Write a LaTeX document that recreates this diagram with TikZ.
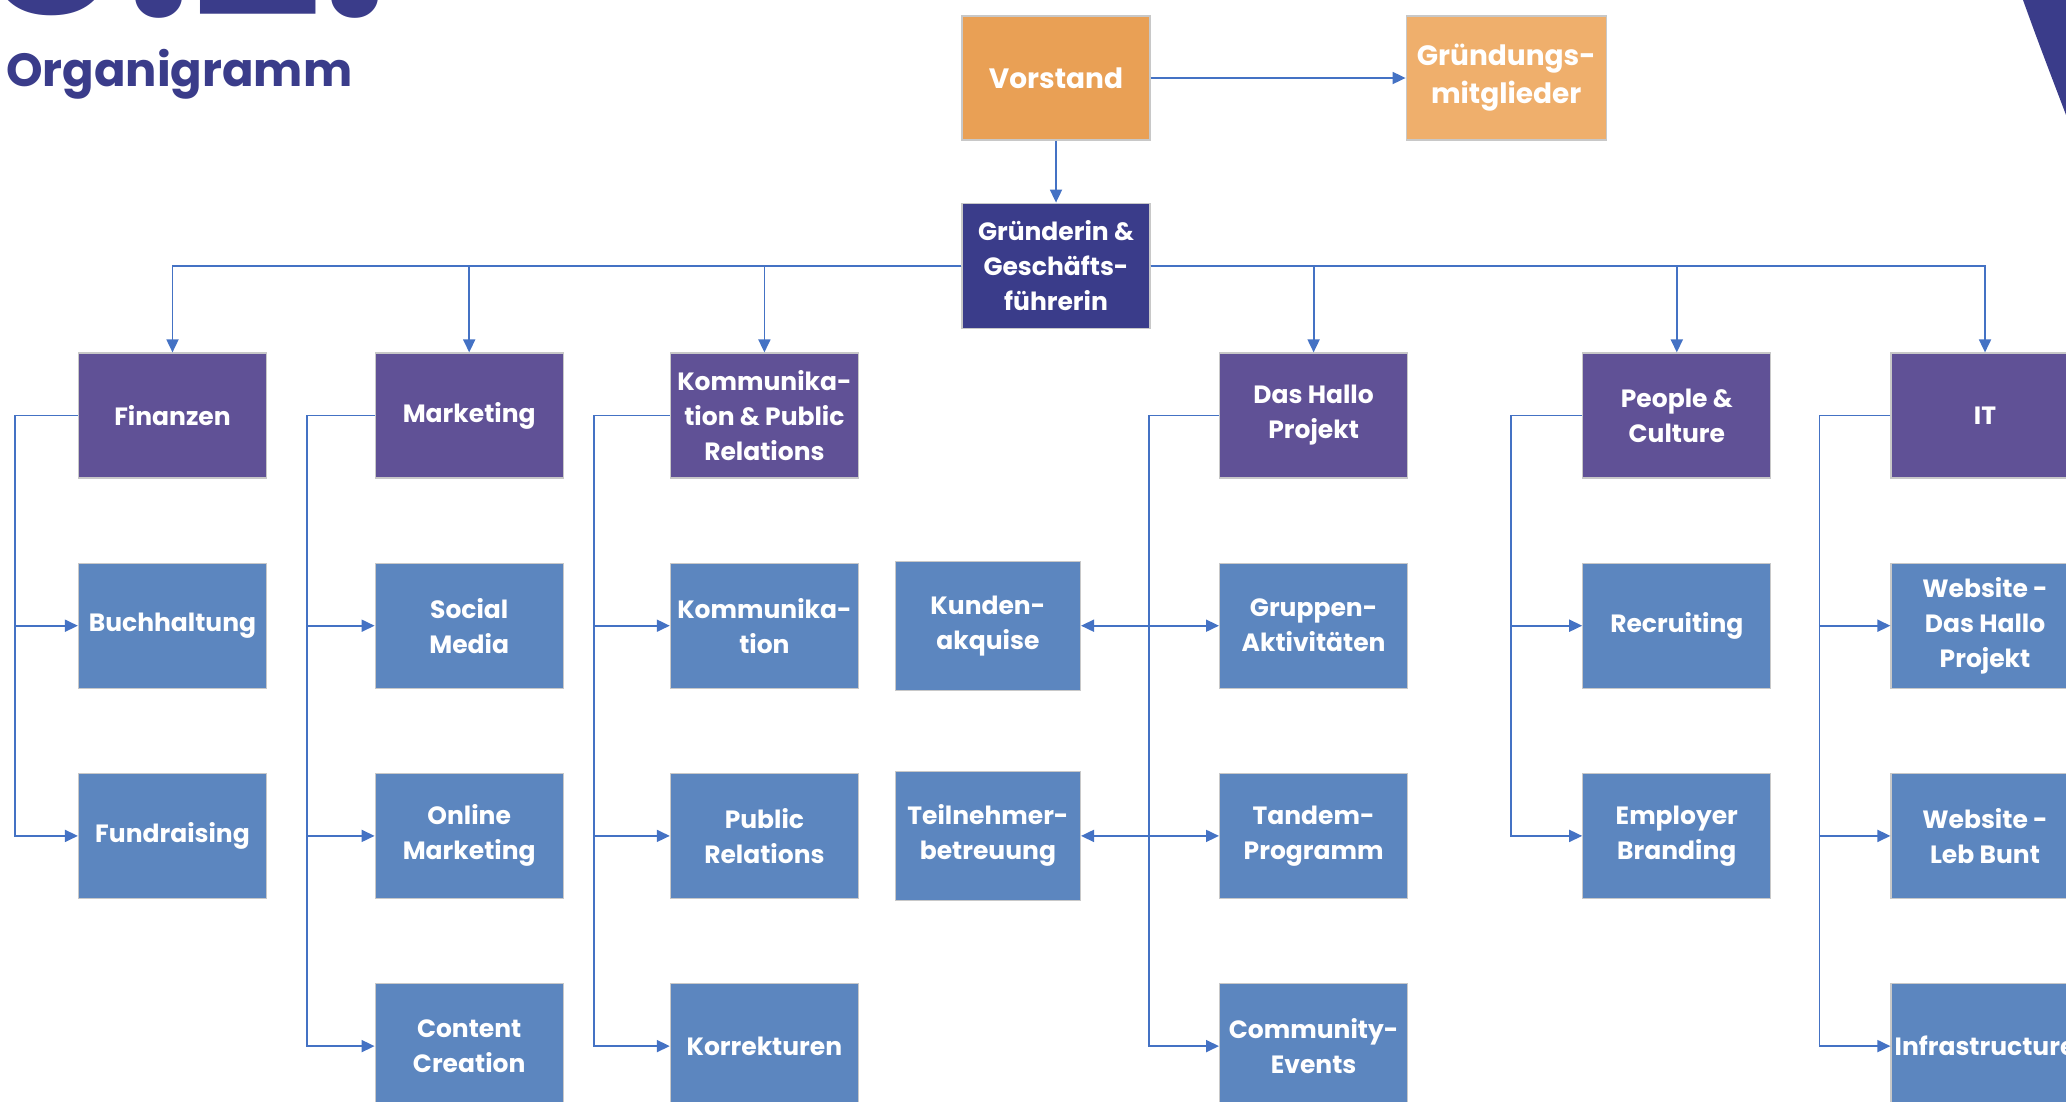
\documentclass[tikz,border=0pt]{standalone}
\usepackage{fontspec}
\setmainfont{Poppins}
\usepackage{xcolor}
\definecolor{ogNavy}{RGB}{58,60,138}
\definecolor{ogPurple}{RGB}{96,81,150}
\definecolor{ogBlue}{RGB}{92,134,191}
\definecolor{ogOrange}{RGB}{233,160,85}
\definecolor{ogOrangeL}{RGB}{239,175,108}
\definecolor{ogLine}{RGB}{68,114,196}
\definecolor{ogBorder}{RGB}{200,200,200}
\usetikzlibrary{positioning,arrows.meta}
\newcommand{\ogfont}{\fontsize{25}{35}\selectfont\bfseries}
\newcommand{\ogbigfont}{\fontsize{28}{38}\selectfont\bfseries}
\tikzset{
  og-box/.style={draw=ogBorder,line width=1.2pt,text=white,align=center,font=\ogfont,
    minimum width=188pt,minimum height=125pt,inner sep=2pt},
  og-board/.style={og-box,fill=ogOrange,minimum height=124pt,font=\ogbigfont},
  og-lead/.style={og-box,fill=ogNavy},
  og-dept/.style={og-box,fill=ogPurple},
  og-team/.style={og-box,fill=ogBlue},
  og-title/.style={text=ogNavy,inner sep=0pt},
  og-arrow/.style={-{Triangle[length=13pt,width=12pt]},ogLine,line width=1.8pt},
  og-arrowd/.style={{Triangle[length=13pt,width=12pt]}-{Triangle[length=13pt,width=12pt]},ogLine,line width=1.8pt},
}
\begin{document}
\begin{tikzpicture}[x=1pt,y=1pt,node distance=84pt and 108pt]
  \useasboundingbox (0,0) rectangle (2066,-1101);

  % heading
  \node[og-title,anchor=base east,font=\fontsize{230}{230}\selectfont\bfseries] (chapter) at (388,-16) {0.2.};
  \node[og-title,anchor=base west,font=\fontsize{46.5}{52}\selectfont\bfseries] (title) at (6,-86) {Organigramm};
  \fill[ogNavy] (2023,0) .. controls (2038,-42) and (2052,-78) .. (2066,-115) -- (2072,-115) -- (2072,4) -- (2022,4) -- cycle;

  % board
  \node[og-board] (vorstand) at (1056,-78) {Vorstand};
  \node[og-board,fill=ogOrangeL,minimum width=200pt,right=255pt of vorstand] (gruender) {Gründungs-\\mitglieder};
  \node[og-lead,below=62pt of vorstand] (gf) {Gründerin \&\\Geschäfts-\\führerin};

  % departments
  \node[og-dept] (fin) at (172.5,-415.5) {Finanzen};
  \node[og-dept,right=107.5pt of fin] (mkt) {Marketing};
  \node[og-dept,right=106pt of mkt] (komm) {Kommunika-\\tion \& Public\\Relations};
  \node[og-dept,right=360pt of komm] (hallo) {Das Hallo\\Projekt};
  \node[og-dept,right=174pt of hallo] (people) {People \&\\Culture};
  \node[og-dept,right=119pt of people] (it) {IT};

  % teams
  \node[og-team,below=of fin] (buch) {Buchhaltung};
  \node[og-team,below=of buch] (fund) {Fundraising};
  \node[og-team,below=of mkt] (social) {Social\\Media};
  \node[og-team,below=of social] (online) {Online\\Marketing};
  \node[og-team,below=of online] (content) {Content\\Creation};
  \node[og-team,below=of komm] (kommteam) {Kommunika-\\tion};
  \node[og-team,below=of kommteam] (pr) {Public\\Relations};
  \node[og-team,below=of pr] (korr) {Korrekturen};
  \node[og-team,below=of hallo] (gruppen) {Gruppen-\\Aktivitäten};
  \node[og-team,below=of gruppen] (tandem) {Tandem-\\Programm};
  \node[og-team,below=of tandem] (events) {Community-\\Events};
  \node[og-team,minimum width=185pt,minimum height=129pt,left=138pt of gruppen] (kunden) {Kunden-\\akquise};
  \node[og-team,minimum width=185pt,minimum height=129pt,left=138pt of tandem] (betreuung) {Teilnehmer-\\betreuung};
  \node[og-team,below=of people] (recruit) {Recruiting};
  \node[og-team,below=of recruit] (branding) {Employer\\Branding};
  \node[og-team,below=of it] (webhallo) {Website -\\Das Hallo\\Projekt};
  \node[og-team,below=of webhallo] (webleb) {Website -\\Leb Bunt};
  \node[og-team,below=of webleb] (infra) {Infrastructure};

  % bracket corners
  \coordinate (finbar) at ([xshift=-63pt]fin.west);
  \coordinate (mktbar) at ([xshift=-68pt]mkt.west);
  \coordinate (kommbar) at ([xshift=-76pt]komm.west);
  \coordinate (hallobar) at ([xshift=-70pt]hallo.west);
  \coordinate (peoplebar) at ([xshift=-71pt]people.west);
  \coordinate (itbar) at ([xshift=-71pt]it.west);

  % edges
  \draw[og-arrow] (vorstand) -- (gruender);
  \draw[og-arrow] (vorstand) -- (gf);
  \draw[og-arrow] (gf.west) -| (fin.north);
  \draw[og-arrow] (gf.west) -| (mkt.north);
  \draw[og-arrow] (gf.west) -| (komm.north);
  \draw[og-arrow] (gf.east) -| (hallo.north);
  \draw[og-arrow] (gf.east) -| (people.north);
  \draw[og-arrow] (gf.east) -| (it.north);

  \draw[og-arrow] (fin.west) -- (finbar) |- (fund.west);
  \draw[og-arrow] (finbar |- buch.west) -- (buch.west);
  \draw[og-arrow] (mkt.west) -- (mktbar) |- (content.west);
  \draw[og-arrow] (mktbar |- social.west) -- (social.west);
  \draw[og-arrow] (mktbar |- online.west) -- (online.west);
  \draw[og-arrow] (komm.west) -- (kommbar) |- (korr.west);
  \draw[og-arrow] (kommbar |- kommteam.west) -- (kommteam.west);
  \draw[og-arrow] (kommbar |- pr.west) -- (pr.west);
  \draw[og-arrow] (hallo.west) -- (hallobar) |- (events.west);
  \draw[og-arrowd] (kunden) -- (gruppen);
  \draw[og-arrowd] (betreuung) -- (tandem);
  \draw[og-arrow] (people.west) -- (peoplebar) |- (branding.west);
  \draw[og-arrow] (peoplebar |- recruit.west) -- (recruit.west);
  \draw[og-arrow] (it.west) -- (itbar) |- (infra.west);
  \draw[og-arrow] (itbar |- webhallo.west) -- (webhallo.west);
  \draw[og-arrow] (itbar |- webleb.west) -- (webleb.west);
\end{tikzpicture}
\end{document}
